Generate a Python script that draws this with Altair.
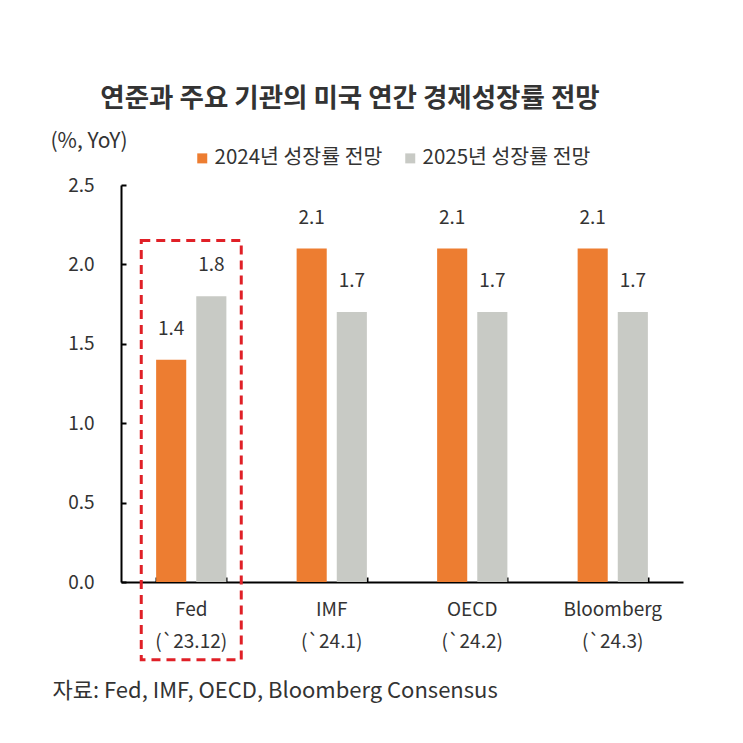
import altair as alt
import pandas as pd

# ---- data ----
categories = ["Fed", "IMF", "OECD", "Bloomberg"]
dates = ["(`23.12)", "(`24.1)", "(`24.2)", "(`24.3)"]
series = ["2024년 성장률 전망", "2025년 성장률 전망"]
growth_2024 = [1.4, 2.1, 2.1, 2.1]
growth_2025 = [1.8, 1.7, 1.7, 1.7]
colors = ["#ED7D31", "#C8CAC5"]
y_ticks = [0.0, 0.5, 1.0, 1.5, 2.0, 2.5]
highlight_category = "Fed"
highlight_top = 2.15
highlight_bottom = -0.49

labels = [f"{c}|{d}" for c, d in zip(categories, dates)]
rows = []
for lab, v24, v25 in zip(labels, growth_2024, growth_2025):
    rows.append({"org": lab, "series": series[0], "value": v24})
    rows.append({"org": lab, "series": series[1], "value": v25})
df = pd.DataFrame(rows)
box_df = pd.DataFrame({
    "org": [labels[categories.index(highlight_category)]],
    "top": [highlight_top],
    "bottom": [highlight_bottom],
})

FONT = "Noto Sans CJK KR"
TXT = "#333333"
x_scale = alt.Scale(domain=labels, paddingInner=0.5, paddingOuter=0.25)
y_scale = alt.Scale(domain=[0, 2.5], nice=False, zero=True)
off_scale = alt.Scale(domain=series, paddingInner=0.25, paddingOuter=0)

bars = alt.Chart(df).mark_bar().encode(
    x=alt.X("org:N", scale=x_scale, sort=labels, axis=alt.Axis(
        title="자료: Fed, IMF, OECD, Bloomberg Consensus",
        titleX=-69, titleY=108, titleAlign="left", titleBaseline="middle",
        titleFontSize=22, titleFontWeight="normal", titleColor=TXT, titleFont=FONT,
        labelExpr="split(datum.label, '|')", labelAngle=0, labelFontSize=19,
        labelLineHeight=32, labelPadding=18, labelColor=TXT, labelFont=FONT,
        ticks=False, tickSize=0, domainColor="#000000", domainWidth=2)),
    xOffset=alt.XOffset("series:N", scale=off_scale, sort=series),
    y=alt.Y("value:Q", scale=y_scale, axis=alt.Axis(
        values=y_ticks, format=".1f", title="(%, YoY)",
        titleAngle=0, titleX=-71, titleY=-44, titleAlign="left", titleBaseline="middle",
        titleFontSize=21, titleFontWeight="normal", titleColor=TXT, titleFont=FONT,
        labelFontSize=19, labelColor=TXT, labelFont=FONT, labelPadding=27,
        ticks=False, tickSize=0, grid=False, domainColor="#000000", domainWidth=2)),
    color=alt.Color("series:N", scale=alt.Scale(domain=series, range=colors), sort=series,
                    legend=alt.Legend(orient="none", legendX=71, legendY=-37,
                                      direction="horizontal", title=None,
                                      symbolType="square", symbolSize=100, symbolStrokeWidth=0,
                                      labelFontSize=20.5, labelFont=FONT, labelColor=TXT,
                                      labelLimit=400, labelOffset=2, columnPadding=17)),
)

box = alt.Chart(box_df).mark_bar(
    width=100, fill="transparent", stroke="#E02027", strokeWidth=3, strokeDash=[9, 6]
).encode(
    x=alt.X("org:N", scale=x_scale, sort=labels, axis=alt.Axis(
        orient="bottom", offset=-5, domain=False, labels=False, ticks=True,
        tickSize=5, tickBand="extent", tickWidth=2, tickColor="#000000", title=None)),
    y=alt.Y("top:Q", scale=y_scale, axis=alt.Axis(
        orient="left", offset=-5, domain=False, labels=False, ticks=True,
        tickSize=5, tickWidth=2, tickColor="#000000", values=y_ticks, title=None, grid=False)),
    y2="bottom:Q",
)

text = alt.Chart(df).mark_text(dy=-31, fontSize=19, color=TXT, font=FONT, baseline="middle").encode(
    x=alt.X("org:N", scale=x_scale, sort=labels, axis=None),
    xOffset=alt.XOffset("series:N", scale=off_scale, sort=series),
    y=alt.Y("value:Q", scale=y_scale, axis=None),
    text=alt.Text("value:Q", format=".1f"),
)

chart = alt.layer(bars, box, text).resolve_axis(
    x="independent", y="independent"
).properties(
    width=562, height=397,
    padding={"left": 121, "top": 185, "right": 60, "bottom": 161},
    autosize=alt.AutoSizeParams(type="none"),
    title=alt.Title("연준과 주요 기관의 미국 연간 경제성장률 전망", fontSize=26.5, fontWeight="bold",
                    font=FONT, color=TXT, anchor="middle", frame="group", dx=-52, offset=18),
).configure_view(stroke=None)

chart.save("out.html", embed_options={"renderer": "svg", "actions": False})
